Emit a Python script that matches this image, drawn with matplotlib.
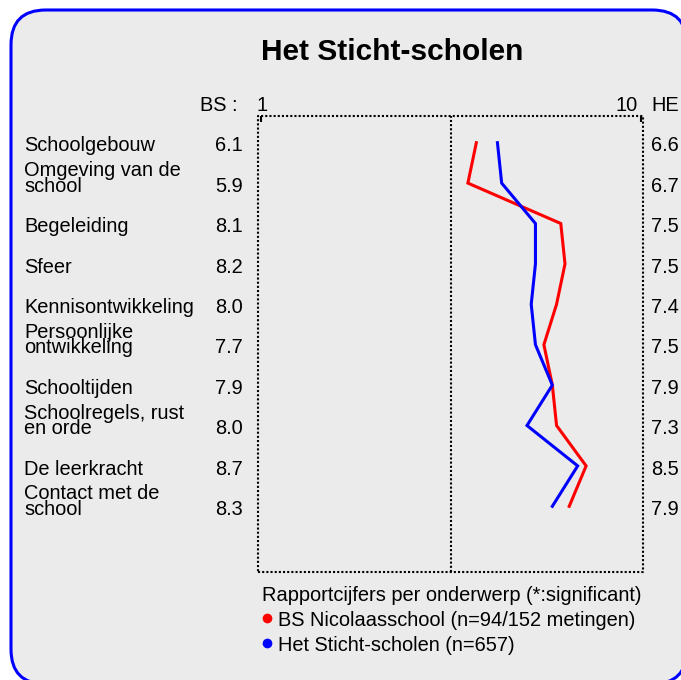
import matplotlib
matplotlib.use('Agg')
import matplotlib.pyplot as plt
from matplotlib.patches import FancyBboxPatch
from matplotlib.lines import Line2D
import matplotlib.transforms as mtransforms

# ---- data ----
categories = ["Schoolgebouw", "Omgeving van de\nschool", "Begeleiding", "Sfeer",
              "Kennisontwikkeling", "Persoonlijke\nontwikkeling", "Schooltijden",
              "Schoolregels, rust\nen orde", "De leerkracht", "Contact met de\nschool"]
bs_scores = [6.1, 5.9, 8.1, 8.2, 8.0, 7.7, 7.9, 8.0, 8.7, 8.3]
he_scores = [6.6, 6.7, 7.5, 7.5, 7.4, 7.5, 7.9, 7.3, 8.5, 7.9]
scale_min, scale_max = 1, 10
title = "Het Sticht-scholen"
left_header = "BS :"
right_header = "HE"
legend_title = "Rapportcijfers per onderwerp (*:significant)"
series_names = ["BS Nicolaasschool (n=94/152 metingen)", "Het Sticht-scholen (n=657)"]
series_colors = ["#ff0000", "#0000ff"]

plt.rcParams['font.family'] = ['Liberation Sans', 'DejaVu Sans']

W, H = 681, 680
fig = plt.figure(figsize=(W / 100, H / 100), dpi=100, facecolor='white')

def fx(px):
    return px / W

def fy(py):
    return 1 - py / H

# background rounded panel
panel = FancyBboxPatch((fx(11), fy(684)), fx(687) - fx(11), fy(10) - fy(684),
                       boxstyle="round,pad=0,rounding_size=0.051",
                       transform=fig.transFigure, facecolor='#ebebeb',
                       edgecolor='#0000ff', linewidth=2.2, zorder=-5)
fig.patches.append(panel)

# plot axes (dotted frame)
left_px, right_px, top_px, bottom_px = 257.5, 643.5, 116, 571.7
ax = fig.add_axes([fx(left_px), fy(bottom_px), fx(right_px) - fx(left_px), fy(top_px) - fy(bottom_px)])
ax.set_zorder(2)
ax.patch.set_visible(False)
px_per_unit = (641 - 261) / (scale_max - scale_min)
ax.set_xlim(scale_min - (261 - left_px) / px_per_unit, scale_max + (right_px - 641) / px_per_unit)
row0, row_step = 142.7, 40.4
ax.set_ylim((bottom_px - row0) / row_step, (top_px - row0) / row_step)
for s in ax.spines.values():
    s.set_visible(False)
dot = dict(color='black', lw=1.5, ls=(0, (1, 1)), transform=ax.transAxes, clip_on=False)
ax.plot([0, 1, 1, 0, 0], [0, 0, 1, 1, 0], **dot)
ax.axvline((scale_min + scale_max) / 2, color='black', lw=1.5, ls=(0, (1, 1)))
ax.set_xticks([scale_min, scale_max])
ax.set_yticks([])
ax.tick_params(axis='x', top=True, bottom=False, labeltop=False, labelbottom=False,
               direction='in', length=4, width=1.5, color='black')

rows = list(range(len(categories)))
ax.plot(bs_scores, rows, color=series_colors[0], lw=2.2, solid_joinstyle='miter')
ax.plot(he_scores, rows, color=series_colors[1], lw=2.2, solid_joinstyle='miter')

# text
fs = 14.4
blend = mtransforms.blended_transform_factory(fig.transFigure, ax.transData)
base_off = 8.8 / row_step
line_off = 15.7 / row_step
for i, (cat, b, h) in enumerate(zip(categories, bs_scores, he_scores)):
    lines = cat.split("\n")
    for k, ln in enumerate(reversed(lines)):
        fig.text(fx(24), i + base_off - k * line_off, ln, transform=blend,
                 ha='left', va='baseline', fontsize=fs)
    fig.text(fx(243), i + base_off, f"{b:.1f}", transform=blend,
             ha='right', va='baseline', fontsize=fs)
    fig.text(fx(651), i + base_off, f"{h:.1f}", transform=blend,
             ha='left', va='baseline', fontsize=fs)

fig.text(fx(392.5), fy(60), title, ha='center', va='baseline', fontsize=21.5, fontweight='bold')
fig.text(fx(237), fy(111), left_header, ha='right', va='baseline', fontsize=fs)
fig.text(fx(257), fy(111), str(scale_min), ha='left', va='baseline', fontsize=fs)
fig.text(fx(638), fy(111), str(scale_max), ha='right', va='baseline', fontsize=fs)
fig.text(fx(651), fy(111), right_header, ha='left', va='baseline', fontsize=fs)

# legend
fig.text(fx(262), fy(601), legend_title, ha='left', va='baseline', fontsize=fs)
for j, (name, col) in enumerate(zip(series_names, series_colors)):
    base = 626 + j * 24.7
    fig.add_artist(Line2D([fx(266.7)], [fy(base - 7.7)], marker='o', markersize=7,
                          color=col, markeredgewidth=0, transform=fig.transFigure))
    fig.text(fx(277.5), fy(base), name, ha='left', va='baseline', fontsize=fs)

fig.savefig('out.png', dpi=100, facecolor='white')
